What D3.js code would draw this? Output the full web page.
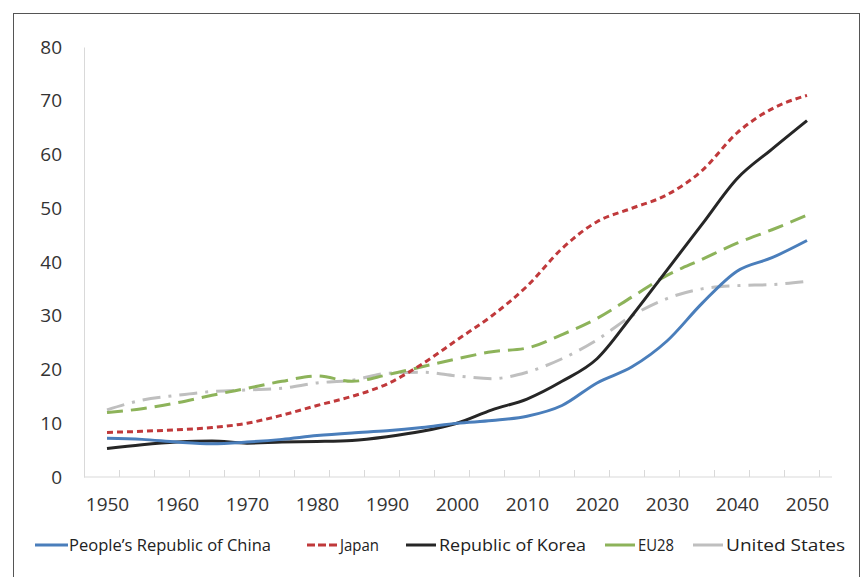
<!DOCTYPE html>
<html><head><meta charset="utf-8">
<script src="https://cdn.jsdelivr.net/npm/d3@7"></script>
<style>body{margin:0;background:#fff;font-family:"Open Sans",sans-serif}</style>
</head><body>
<script>
var years = d3.range(1950, 2051, 5);
var yTicks = [0,10,20,30,40,50,60,70,80];
var xLabels = d3.range(1950, 2051, 10);
var china = [7.2,7,6.5,6.2,6.5,7,7.7,8.2,8.6,9.2,10,10.5,11.3,13.3,17.5,20.5,25.3,32.3,38.3,40.8,44];
var japan = [8.3,8.5,8.8,9.2,10,11.5,13.3,15,17.3,21,25.5,30,35.5,42.5,47.5,50,52.5,57,64,68.5,71];
var korea = [5.3,6,6.5,6.7,6.3,6.5,6.6,6.8,7.5,8.5,10,12.5,14.5,17.8,22,30,38.5,47,55.5,61,66.3];
var eu28 = [12,12.7,13.8,15.2,16.5,17.8,18.8,17.8,19,20.5,22,23.3,24,26.5,29.5,33.5,37.5,40.5,43.5,46,48.7];
var us = [12.5,14.3,15.2,15.9,16.2,16.5,17.5,18,19.3,19.5,18.8,18.3,19.5,22,25.5,30,33.2,35,35.6,35.8,36.4];
var series = [
  {name:"People\u2019s Republic of China", v:china, c:"#4a7ebb", d:null},
  {name:"Japan", v:japan, c:"#c0393b", d:"6,4"},
  {name:"Republic of Korea", v:korea, c:"#262626", d:null},
  {name:"EU28", v:eu28, c:"#8db35a", d:"16,8"},
  {name:"United States", v:us, c:"#bfbfbf", d:"18,8,3,8"}
];
var svg = d3.select("body").append("svg").attr("width",860).attr("height",577);
svg.append("rect").attr("x",13.5).attr("y",13.5).attr("width",846).attr("height",570)
  .attr("fill","none").attr("stroke","#555");
var x = d3.scaleLinear().domain([1950,2050]).range([107,807]);
var y = d3.scaleLinear().domain([0,80]).range([477,47]);
var ya = svg.append("g").attr("transform","translate(84,0)")
  .call(d3.axisLeft(y).tickValues(yTicks).tickSize(0).tickPadding(22));
ya.select(".domain").attr("stroke","#d9d9d9");
ya.selectAll("text").attr("font-size",19).attr("fill","#333").attr("font-family","Open Sans");
var xa = svg.append("g").attr("transform","translate(0,477)")
  .call(d3.axisBottom(x).tickValues(xLabels).tickSize(0).tickPadding(21).tickFormat(d3.format("d")));
xa.select(".domain").attr("d","M84,0H832").attr("stroke","#d9d9d9");
xa.selectAll("text").attr("font-size",19).attr("fill","#333").attr("font-family","Open Sans");
xa.selectAll(".mt").data(d3.range(1952.5, 2053, 5)).enter().append("line")
  .attr("x1",function(d){return x(d)-5;}).attr("x2",function(d){return x(d)-5;})
  .attr("y1",0).attr("y2",-7).attr("stroke","#d9d9d9");
var line = d3.line().x(function(d,i){return x(years[i]);}).y(function(d){return y(d);}).curve(d3.curveMonotoneX);
series.slice().reverse().forEach(function(s){
  svg.append("path").datum(s.v).attr("d",line).attr("fill","none")
    .attr("stroke",s.c).attr("stroke-width",3).attr("stroke-dasharray",s.d);
});
var lx = [35, 307, 406, 605, 693];
var tl = [202, 39, 147, 36, 119];
series.forEach(function(s,i){
  var g = svg.append("g").attr("transform","translate("+lx[i]+",545)");
  g.append("line").attr("x1",0).attr("x2",i==0?33:30).attr("stroke",s.c).attr("stroke-width",3)
    .attr("stroke-dasharray",s.d=="6,4"?"8,3":null);
  g.append("text").attr("x",i==0?34:33).attr("y",5.5).attr("font-size",15.5).attr("fill","#222")
    .attr("textLength",tl[i]).attr("lengthAdjust","spacingAndGlyphs")
    .attr("font-family","Open Sans").text(s.name);
});
</script>
</body></html>
